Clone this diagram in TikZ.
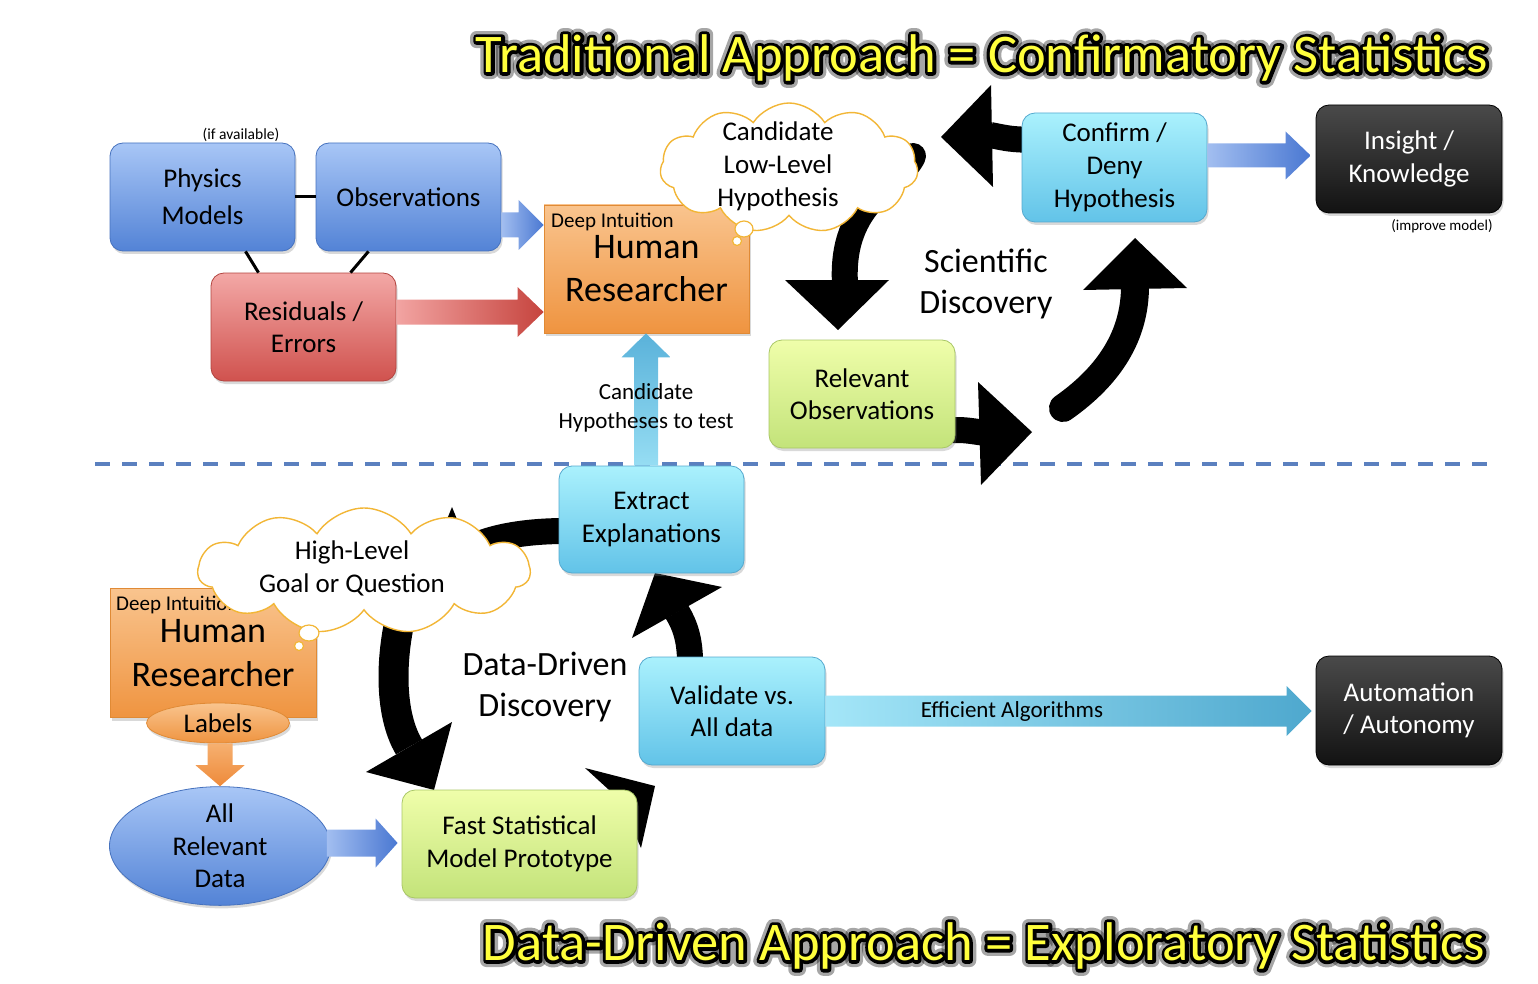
\documentclass[tikz,border=0pt]{standalone}
\usepackage{fontspec}
\setmainfont{Carlito}
\newfontfamily\ttlthin{Carlito}[FakeBold=12]
\newfontfamily\ttlthick{Carlito}[FakeBold=24]
\usetikzlibrary{shapes.symbols,shapes.geometric,shadows,calc}
\newcommand\fsz[2]{\fontsize{#1}{#2}\selectfont}
\definecolor{bluetop}{HTML}{A8C6F6}
\definecolor{bluebot}{HTML}{5383D6}
\definecolor{blueedge}{HTML}{4672BE}
\definecolor{redtop}{HTML}{F3A8A6}
\definecolor{redbot}{HTML}{D0524E}
\definecolor{rededge}{HTML}{B2443F}
\definecolor{orgtop}{HTML}{F9C48E}
\definecolor{orgbot}{HTML}{EF9440}
\definecolor{orgedge}{HTML}{E08A35}
\definecolor{cyantop}{HTML}{AAF1FD}
\definecolor{cyanbot}{HTML}{62C3E8}
\definecolor{cyanedge}{HTML}{55A9CF}
\definecolor{grntop}{HTML}{EFFEAA}
\definecolor{grnbot}{HTML}{C3E37A}
\definecolor{grnedge}{HTML}{A9C766}
\definecolor{blktop}{HTML}{4A4A4A}
\definecolor{blkbot}{HTML}{121212}
\definecolor{cloudedge}{HTML}{F2B636}
\definecolor{dashblue}{HTML}{5B80BF}
\definecolor{ttlyellow}{HTML}{FFFF3C}
\definecolor{bluearrL}{HTML}{A2BEF0}
\definecolor{bluearrR}{HTML}{4A78D2}
\definecolor{redarrL}{HTML}{F2A4A2}
\definecolor{redarrR}{HTML}{C6443E}
\definecolor{cyanarrL}{HTML}{A4E6F8}
\definecolor{cyanarrR}{HTML}{4EA8CE}
\definecolor{upcyanB}{HTML}{96DDF3}
\definecolor{upcyanT}{HTML}{5AB2DA}
\definecolor{orgarrT}{HTML}{F6B070}
\definecolor{orgarrB}{HTML}{EE8A3A}
% right-pointing block arrow: #1 options, #2 start, #3 tip, #4 shaft half, #5 head half, #6 head length
\newcommand\rarrow[6]{%
\path[#1] let \p1=(#2), \p2=(#3) in
 (\x1,{\y1+#4}) -- ({\x2-#6},{\y1+#4}) -- ({\x2-#6},{\y1+#5}) -- (\x2,\y1) -- ({\x2-#6},{\y1-#5}) -- ({\x2-#6},{\y1-#4}) -- (\x1,{\y1-#4}) -- cycle;}
\newcommand\uarrow[6]{%
\path[#1] let \p1=(#2), \p2=(#3) in
 ({\x1-#4},\y1) -- ({\x1-#4},{\y2-#6}) -- ({\x1-#5},{\y2-#6}) -- (\x1,\y2) -- ({\x1+#5},{\y2-#6}) -- ({\x1+#4},{\y2-#6}) -- ({\x1+#4},\y1) -- cycle;}
\newcommand\darrow[6]{%
\path[#1] let \p1=(#2), \p2=(#3) in
 ({\x1-#4},\y1) -- ({\x1-#4},{\y2+#6}) -- ({\x1-#5},{\y2+#6}) -- (\x1,\y2) -- ({\x1+#5},{\y2+#6}) -- ({\x1+#4},{\y2+#6}) -- ({\x1+#4},\y1) -- cycle;}
\newcommand\glowtext[2]{%
 \node[ttl,text=black,opacity=0.35,font=\ttlthick\fsz{54.5}{60}] at (#1) {#2};
 \node[ttl,text=black,font=\ttlthin\fsz{54.5}{60}] at (#1) {#2};
 \node[ttl,text=ttlyellow] at (#1) {#2};}
\begin{document}
\begin{tikzpicture}[x=1pt,y=-1pt,
 box/.style={rounded corners=13pt, align=center, inner sep=0pt, minimum width=185pt, minimum height=108pt,
   font=\fsz{27}{32.5}, line width=0.8pt, drop shadow={opacity=0.3, shadow xshift=1.5pt, shadow yshift=-3pt}},
 bluebox/.style={box, top color=bluetop, bottom color=bluebot, draw=blueedge},
 redbox/.style={box, top color=redtop, bottom color=redbot, draw=rededge},
 cyanbox/.style={box, top color=cyantop, bottom color=cyanbot, draw=cyanedge},
 grnbox/.style={box, top color=grntop, bottom color=grnbot, draw=grnedge},
 blkbox/.style={box, top color=blktop, bottom color=blkbot, draw=black, text=white},
 orgbox/.style={box, rounded corners=0pt, top color=orgtop, bottom color=orgbot, draw=orgedge},
 blk/.style={line width=26pt, black, line cap=round},
 cloudbox/.style={cloud, cloud puffs=11, cloud puff arc=115, cloud ignores aspect, draw=cloudedge, fill=white,
   line width=1.4pt, inner sep=0pt},
 cloudtext/.style={align=center, font=\fsz{27}{33}, inner sep=0pt},
 bubble/.style={ellipse, draw=cloudedge, fill=white, line width=1.2pt, inner sep=0pt},
 ttl/.style={font=\fsz{54.5}{60}, inner sep=0pt, line join=round, miter limit=1},
 lnk/.style={line width=3pt, black}]
\useasboundingbox (0,0) rectangle (1538,984);

% dashed separator
\coordinate (dl) at (95,464);
\coordinate (dr) at (1497,464);
\draw[dashblue, line width=4pt, dash pattern=on 15pt off 12pt] (dl) -- (dr);

% ---------- black cycle arrows (top) ----------
\draw[blk] (913,156) .. controls (900,185) and (840,200) .. (845,284);
\fill (785,280) -- (838,330) -- (889,280) -- cycle;
\draw[blk, line cap=butt] (950,430) .. controls (965,430) .. (985,433);
\fill (978,382) -- (1032,432) -- (981,485) -- cycle;
\draw[blk, line width=28pt] (1063,408) .. controls (1110,375) and (1135,335) .. (1135,286);
\fill (1083,290) -- (1135,238) -- (1187,288) -- cycle;
\draw[blk, line cap=butt] (1030,140) .. controls (1010,139) .. (990,135);
\fill (991,85) -- (941,137) -- (993,187) -- cycle;

% ---------- black cycle arrows (bottom) ----------
\draw[blk, line cap=butt] (565,531) .. controls (505,531) and (460,545) .. (452,565);
\fill (428,566) -- (452,507) -- (476,566) -- cycle;
\draw[blk, line width=30pt, line cap=butt] (405,600) .. controls (390,650) and (388,712) .. (409,747);
\fill (366,772) -- (434,790) -- (452,722) -- cycle;
\fill (585,768) -- (655,786) -- (641,848) -- (620,800) -- cycle;
\draw[blk, line cap=butt] (690,662) .. controls (690,640) and (685,625) .. (677,612);
\fill (632,638) -- (655,573) -- (722,587) -- cycle;

% ---------- nodes ----------
\node[bluebox, font=\fsz{27}{37}] (pm) at (202.5,197) {Physics\\Models};
\node[bluebox] (obs) at (408.5,197) {Observations};
\node[redbox] (res) at (303.5,327) {Residuals /\\Errors};
\node[orgbox, minimum width=205pt, minimum height=128pt, font=\fsz{36}{43}] (hr) at (646.5,269) {Human\\Researcher};
\node[cyanbox, minimum height=109pt, font=\fsz{27}{33}] (cd) at (1114.5,167.5) {Confirm /\\Deny\\Hypothesis};
\node[blkbox, minimum width=186pt] (ins) at (1409,159) {Insight /\\Knowledge};
\node[grnbox, minimum width=186pt] (rel) at (862,394) {Relevant\\Observations};
\node[cyanbox, minimum height=107pt] (ext) at (651.5,519.5) {Extract\\Explanations};
\node[cyanbox, minimum width=186pt] (val) at (732,711) {Validate vs.\\All data};
\node[blkbox, minimum width=186pt, minimum height=109pt] (aut) at (1409,710.5) {Automation\\/ Autonomy};
\node[grnbox, minimum width=235pt] (fast) at (519.5,844) {Fast Statistical\\Model Prototype};
\node[orgbox, minimum width=206pt, minimum height=129pt, font=\fsz{36}{44}] (hr2) at (213,653) {Human\\Researcher};
\node[ellipse, top color=bluetop, bottom color=bluebot, draw=blueedge, line width=0.8pt, inner sep=0pt,
  minimum width=221pt, minimum height=114pt, align=center, font=\fsz{27}{32.5},
  drop shadow={opacity=0.3, shadow xshift=1.5pt, shadow yshift=-3pt}] (ard) at (220,846) {All\\Relevant\\Data};

% ---------- colored block arrows ----------
\rarrow{left color=bluearrL, right color=bluearrR}{$(obs.east)+(0,28)$}{hr.west}{12.5pt}{25pt}{25pt}
\rarrow{left color=redarrL, right color=redarrR}{$(res.east)+(0,-15)$}{hr.west}{12.5pt}{25pt}{26pt}
\rarrow{left color=bluearrL, right color=bluearrR}{$(cd.east)+(0,-12)$}{$(ins.west)+(-5,0)$}{12pt}{24pt}{25pt}
\rarrow{left color=cyanarrL, right color=cyanarrR}{val.east}{$(aut.west)+(-4,0)$}{15.5pt}{25pt}{25pt}
\rarrow{left color=bluearrL, right color=bluearrR}{$(ard.east)+(-4,-3)$}{$(fast.west)+(-4,0)$}{13.5pt}{24.5pt}{22pt}
\uarrow{bottom color=upcyanB, top color=upcyanT}{$(ext.north)+(-5.5,0)$}{hr.south}{12pt}{24.5pt}{24pt}

% links
\draw[lnk] (pm.east) -- (obs.west);
\draw[lnk] ($(pm.south)+(43,0)$) -- ($(res.north)+(-45,0)$);
\draw[lnk] ($(obs.south)+(-40,0)$) -- ($(res.north)+(47,0)$);

% labels ellipse and arrow
\node[ellipse, top color=orgtop, bottom color=orgbot, draw=orgedge, line width=0.8pt, inner sep=0pt,
  minimum width=143pt, minimum height=40pt, font=\fsz{27}{30},
  drop shadow={opacity=0.3, shadow xshift=1.5pt, shadow yshift=-3pt}] (lab) at (218,723) {Labels};
\darrow{top color=orgarrT, bottom color=orgarrB}{$(lab.south)+(2,0)$}{ard.north}{12.5pt}{24.5pt}{21pt}

% ---------- texts ----------
\node[anchor=west, font=\fsz{21}{24}, inner sep=0pt] (di1) at (551,222) {Deep Intuition};
\node[anchor=west, font=\fsz{21}{24}, inner sep=0pt] (di2) at (116,605) {Deep Intuition};
\node[font=\fsz{15.5}{18}] (ia) at (241,135) {(if available)};
\node[font=\fsz{15}{18}] (im) at (1442,226) {(improve model)};
\node[font=\fsz{34}{41}, align=center] (sd) at (986,283.5) {Scientific\\Discovery};
\node[font=\fsz{34}{41}, align=center] (ddd) at (545,687.5) {Data-Driven\\Discovery};
\node[font=\fsz{23}{29}, align=center] (cht) at (646,407.5) {Candidate\\Hypotheses to test};
\node[font=\fsz{23}{26}] (ea) at (1012,711) {Efficient Algorithms};

% ---------- clouds ----------
\node[cloudbox, minimum width=258pt, minimum height=130pt] (c1) at (789,168) {};
\node[cloudtext] (c1t) at (778,166) {Candidate\\Low-Level\\Hypothesis};
\node[bubble, minimum width=18pt, minimum height=16pt] (b1) at (744,229) {};
\node[bubble, minimum width=9pt, minimum height=9pt] (b2) at (737,241) {};
\node[cloudbox, minimum width=332pt, minimum height=126pt] (c2) at (364,571) {};
\node[cloudtext] (c2t) at (352,568) {High-Level\\Goal or Question};
\node[bubble, minimum width=20pt, minimum height=16pt] (b3) at (309,633) {};
\node[bubble, minimum width=9pt, minimum height=9pt] (b4) at (299,646) {};

% ---------- titles ----------
\coordinate (t1) at (982,58);
\coordinate (t2) at (984,946);
\glowtext{t1}{Traditional Approach = Confirmatory Statistics}
\glowtext{t2}{Data-Driven Approach = Exploratory Statistics}
\end{tikzpicture}
\end{document}
